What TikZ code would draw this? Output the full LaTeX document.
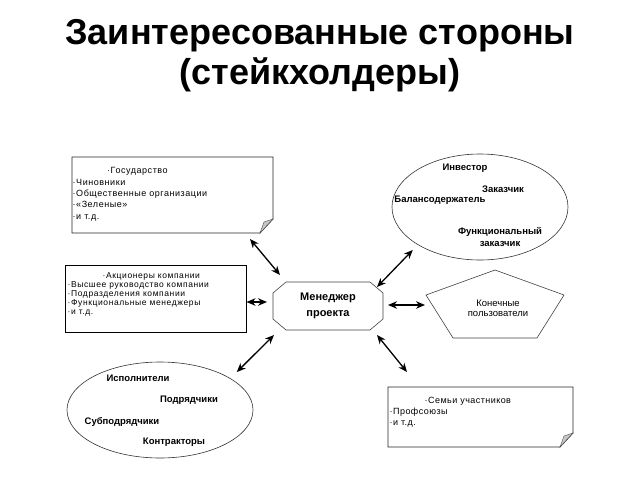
\documentclass[tikz,border=0pt]{standalone}
\usepackage{fontspec}
\setmainfont{Liberation Sans}
\usetikzlibrary{arrows.meta,shapes.geometric}
\tikzset{
  headline/.style={font=\fontsize{36}{40}\selectfont\bfseries,align=center,inner sep=0pt},
  boxarea/.style={inner sep=0pt,outer sep=0pt},
  noteline/.style={draw=black!85,line width=0.8pt},
  flap/.style={fill=gray!45,draw=black!70,line width=0.4pt},
  notetext/.style={inner sep=0pt,anchor=north west,align=left,font=\fontsize{9}{11.3}\selectfont\addfontfeatures{LetterSpace=6}},
  oval/.style={ellipse,draw=black!80,line width=0.6pt,inner sep=0pt,outer sep=0pt},
  member/.style={font=\fontsize{9.5}{12.5}\selectfont\bfseries,inner sep=0pt,align=center},
  biarrow/.style={{Stealth[length=9pt,width=7.5pt]}-{Stealth[length=9pt,width=7.5pt]},line width=1.3pt},
}

\begin{document}
\begin{tikzpicture}[x=1pt,y=-1pt]
  \useasboundingbox (0,0) rectangle (640,480);
  \node[headline] (ttl) at (320,56) {Заинтересованные стороны\\(стейкхолдеры)};
  % note boxes
  \node[boxarea,minimum width=201pt,minimum height=76pt] (gov) at (172.5,195) {};
  \node[boxarea,minimum width=185pt,minimum height=60pt] (fam) at (480.5,417) {};
  \foreach \n in {gov,fam} {
    \draw[noteline] (\n.north west) -- (\n.north east) -- ([shift={(0,-14)}]\n.south east)
      -- ([shift={(-13,0)}]\n.south east) -- (\n.south west) -- cycle;
    \draw[flap] ([shift={(-13,0)}]\n.south east) -- ([shift={(-9,-11)}]\n.south east)
      -- ([shift={(0,-14)}]\n.south east) -- cycle;
  }
  \node[notetext] (govtext) at ([shift={(0.5,10.5)}]gov.north west)
    {\hspace*{34.5pt}·Государство\\·Чиновники\\·Общественные организации\\·«Зеленые»\\·и т.д.};
  \node[notetext,font=\fontsize{9}{11}\selectfont\addfontfeatures{LetterSpace=5}] (famtext) at ([shift={(1.5,10)}]fam.north west)
    {\hspace*{35pt}·Семьи участников\\·Профсоюзы\\·и т.д.};
  % shareholders
  \node[boxarea,draw,line width=1.6pt,minimum width=181pt,minimum height=67pt] (sh) at (156,299) {};
  \node[notetext,font=\fontsize{8.5}{9}\selectfont\addfontfeatures{LetterSpace=7}] (shtext) at ([shift={(2,7.3)}]sh.north west)
    {\hspace*{35pt}·Акционеры компании\\·Высшее руководство компании\\·Подразделения компании\\·Функциональные менеджеры\\·и т.д.};
  % ovals
  \node[oval,minimum width=176pt,minimum height=106pt] (inv) at (480,207) {};
  \node[member] (investor) at (465,168) {Инвестор};
  \node[member] (client) at (503,189) {Заказчик};
  \node[member] (holder) at (440,200) {Балансодержатель};
  \node[member] (fclient) at (500,237) {Функциональный\\заказчик};
  \node[oval,minimum width=186pt,minimum height=96pt] (con) at (160,410) {};
  \node[member] (exec) at (138,378) {Исполнители};
  \node[member] (contr) at (189,400) {Подрядчики};
  \node[member] (subcontr) at (122,422) {Субподрядчики};
  \node[member] (contractors) at (174,442) {Контракторы};
  % project manager
  \node[boxarea,minimum width=110pt,minimum height=48pt,align=center,
    font=\fontsize{11}{15.5}\selectfont\bfseries] (pm) at (328,306) {Менеджер\\проекта};
  \draw[draw=black!75,line width=0.6pt] ([shift={(13,0)}]pm.north west) -- ([shift={(-13,0)}]pm.north east)
    -- ([shift={(0,11)}]pm.north east) -- ([shift={(0,-11)}]pm.south east)
    -- ([shift={(-13,0)}]pm.south east) -- ([shift={(13,0)}]pm.south west)
    -- ([shift={(0,-11)}]pm.south west) -- ([shift={(0,11)}]pm.north west) -- cycle;
  % end users
  \node[boxarea,minimum width=138pt,minimum height=68pt] (eu) at (495,304) {};
  \draw[draw=black!75,line width=0.6pt] (eu.north) -- ([shift={(0,-9)}]eu.east)
    -- ([shift={(42,0)}]eu.south) -- ([shift={(-42,0)}]eu.south) -- ([shift={(0,-9)}]eu.west) -- cycle;
  \node[member,font=\fontsize{9.5}{10}\selectfont] (eutext) at (498,308) {Конечные\\пользователи};
  % arrows
  \draw[biarrow] ([shift={(-23,6)}]gov.south east) -- ([shift={(7,-7)}]pm.north west);
  \draw[biarrow] ([shift={(0,3)}]sh.east) -- ([shift={(-6,-4)}]pm.west);
  \draw[biarrow] ([shift={(-6,5)}]pm.north east) -- ([shift={(-5,5.5)}]inv.south west);
  \draw[biarrow] ([shift={(5,-1)}]pm.east) -- ([shift={(-1,1)}]eu.west);
  \draw[biarrow] ([shift={(11,-4)}]con.north east) -- ([shift={(1,5)}]pm.south west);
  \draw[biarrow] ([shift={(-6,5)}]pm.south east) -- ([shift={(19,-15)}]fam.north west);
\end{tikzpicture}
\end{document}
